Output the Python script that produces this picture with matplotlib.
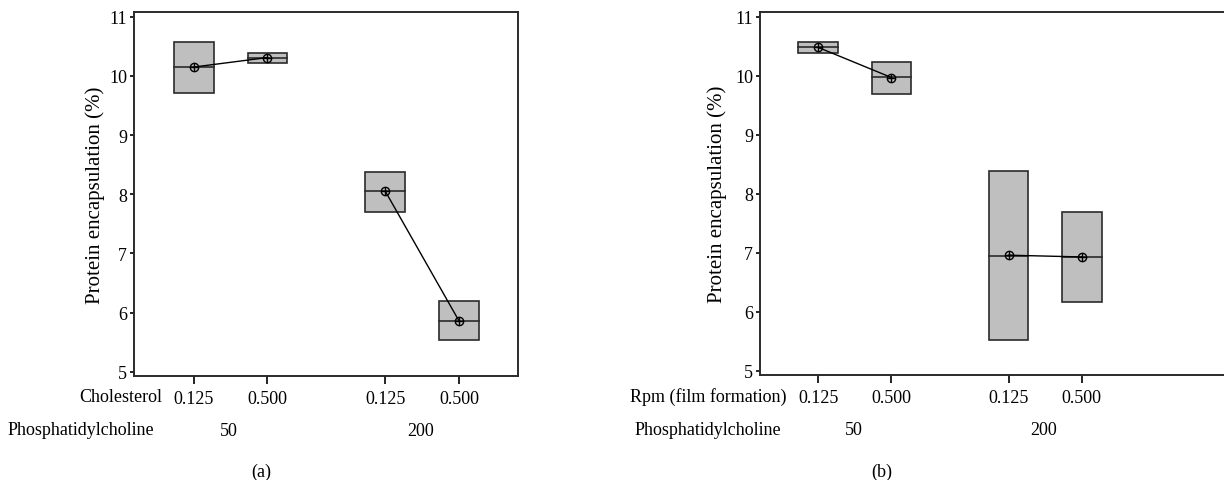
import matplotlib.pyplot as plt
from matplotlib.transforms import blended_transform_factory

plt.rcParams['font.family'] = ['Liberation Serif', 'DejaVu Serif']
plt.rcParams['font.size'] = 13

# x positions of the four cells (two groups of two)
x_pos = [1, 2, 3.6, 4.6]
level_labels = ['0.125', '0.500', '0.125', '0.500']
pc_labels = ['50', '200']

# panel (a): cholesterol x phosphatidylcholine
a_low = [9.71, 10.22, 7.70, 5.53]
a_high = [10.58, 10.38, 8.38, 6.19]
a_med = [10.15, 10.31, 8.05, 5.86]
a_mean = [10.15, 10.31, 8.05, 5.86]

# panel (b): rpm x phosphatidylcholine
b_low = [10.38, 9.69, 5.53, 6.17]
b_high = [10.57, 10.23, 8.38, 7.70]
b_med = [10.48, 9.98, 6.95, 6.93]
b_mean = [10.48, 9.97, 6.96, 6.93]

W, H = 1224, 481
fig = plt.figure(figsize=(12.24, 4.81), dpi=100)

box_w = 0.54
edge = '#2b2b2b'


def panel(rect, xlim, low, high, med, mean, factor, ylab_off):
    ax = fig.add_axes(rect)
    for x, lo, hi, md in zip(x_pos, low, high, med):
        ax.bar(x, hi - lo, bottom=lo, width=box_w, color='#bfbfbf',
               edgecolor=edge, linewidth=1.2, zorder=2)
        ax.plot([x - box_w / 2, x + box_w / 2], [md, md], color=edge, lw=1.2, zorder=3)
    # connect means within each phosphatidylcholine group
    for i in (0, 2):
        ax.plot(x_pos[i:i + 2], mean[i:i + 2], color='black', lw=1.0, zorder=4)
    ax.plot(x_pos, mean, 'o', ms=6, mfc='none', mec='black', mew=1.0, zorder=5, ls='none')
    ax.plot(x_pos, mean, '+', ms=6, mec='black', mew=1.0, zorder=5, ls='none')

    ax.set_xlim(*xlim)
    ax.set_ylim(4.93, 11.08)
    ax.set_yticks(range(5, 12))
    ax.set_xticks(x_pos)
    ax.set_xticklabels(level_labels)
    ax.tick_params(axis='x', length=6, width=1.2, pad=4, labelsize=13)
    ax.tick_params(axis='y', length=3, width=1.2, pad=2, labelsize=13)
    for s in ax.spines.values():
        s.set_color(edge)
        s.set_linewidth(1.4)
    ax.set_ylabel('Protein encapsulation (%)', fontsize=15, labelpad=ylab_off)

    tr = blended_transform_factory(ax.transData, ax.transAxes)
    ax.annotate(factor, xy=(x_pos[0], 0), xycoords=tr, xytext=(-23, -15),
                textcoords='offset points', ha='right', va='center', fontsize=13)
    for j, lab in enumerate(pc_labels):
        xm = (x_pos[2 * j] + x_pos[2 * j + 1]) / 2
        ax.annotate(lab, xy=(xm, 0), xycoords=tr, xytext=(-1, -39),
                    textcoords='offset points', ha='center', va='center', fontsize=13)
    return ax


ax1 = panel([134 / W, 1 - 377 / H, (518 - 134) / W, (377 - 13) / H], (0.19, 5.4),
            a_low, a_high, a_med, a_mean, 'Cholesterol', 3)
ax2 = panel([760 / W, 1 - 376 / H, (1226 - 760) / W, (376 - 13) / H], (0.205, 6.57),
            b_low, b_high, b_med, b_mean, 'Rpm (film formation)', 6)

fig.text(8 / W, 1 - 431 / H, 'Phosphatidylcholine', ha='left', va='center', fontsize=13)
fig.text(635 / W, 1 - 431 / H, 'Phosphatidylcholine', ha='left', va='center', fontsize=13)
fig.text(261 / W, 1 - 472 / H, '(a)', ha='center', va='center', fontsize=13)
fig.text(882 / W, 1 - 472 / H, '(b)', ha='center', va='center', fontsize=13)

fig.savefig('out.png', dpi=100)
